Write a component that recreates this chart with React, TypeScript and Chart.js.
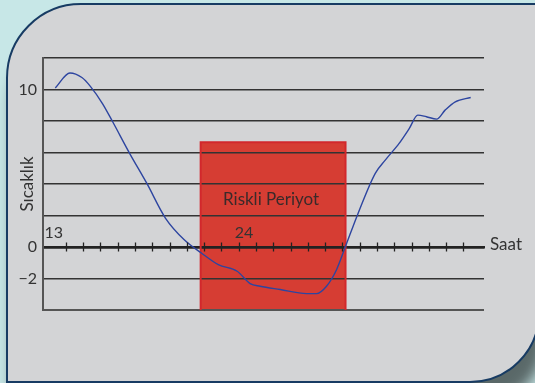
import React, { useEffect, useRef } from 'react';
import { Chart, registerables } from 'chart.js';

Chart.register(...registerables);

// Curve: hour of day (13 = 13:00, 24 = midnight, > 24 = next day) and temperature
const hours = [13.39, 14.24, 14.93, 15.42, 16.12, 16.71, 17.69, 18.68, 19.76, 20.85, 21.84, 22.82, 23.91, 24.66, 25.24, 26.4, 27.92, 28.5, 29.08, 29.66, 30.18, 30.91, 31.9, 32.49, 33.28, 33.87, 34.36, 34.86, 35.45, 35.94, 36.53, 37.42];
const temps = [10.1, 11.05, 10.76, 10.2, 9.11, 7.95, 5.95, 4.05, 1.84, 0.46, -0.38, -1.12, -1.54, -2.32, -2.49, -2.7, -2.96, -2.96, -2.49, -1.44, 0.04, 2.15, 4.68, 5.53, 6.58, 7.53, 8.37, 8.27, 8.12, 8.69, 9.22, 9.49];

// Risk period
const riskStart = 21.8;
const riskEnd = 30.18;
const riskTop = 6.65;
const riskLabel = 'Riskli Periyot';
const riskLabelY = 2.69;

// Axes
const xMin = 12.68;
const xMax = 38.19;
const tickHours = [14, 15, 16, 17, 18, 19, 20, 21, 22, 23, 24, 25, 26, 27, 28, 29, 30, 31, 32, 33, 34, 35, 36, 37];
const labeledHours = [13, 24];
const yMin = -4;
const yMax = 12;
const yStep = 2;
const yLabelValues = [10, 0, -2];
const xTitle = 'Saat';
const yTitle = 'Sıcaklık';

export default function App() {
  const ref = useRef<HTMLCanvasElement>(null);

  useEffect(() => {
    const canvas = ref.current!;
    const overlay = {
      id: 'overlay',
      afterDatasetsDraw(chart: any) {
        const { ctx, chartArea } = chart;
        const xs = chart.scales.x;
        const ys = chart.scales.y;
        const y0 = ys.getPixelForValue(0);
        ctx.save();
        ctx.strokeStyle = '#222';
        ctx.lineWidth = 1.3;
        tickHours.forEach((h) => {
          const px = Math.round(xs.getPixelForValue(h)) + 0.5;
          ctx.beginPath();
          ctx.moveTo(px, y0 - 4.5);
          ctx.lineTo(px, y0 + 4.5);
          ctx.stroke();
        });
        ctx.fillStyle = '#333';
        ctx.font = '17px Lato';
        ctx.textAlign = 'left';
        ctx.textBaseline = 'middle';
        ctx.fillText(xTitle, chartArea.right + 6, y0 - 2);
        ctx.fillStyle = '#3a2a2a';
        ctx.font = '17px Lato';
        ctx.textAlign = 'center';
        ctx.textBaseline = 'alphabetic';
        ctx.fillText(
          riskLabel,
          xs.getPixelForValue((riskStart + riskEnd) / 2) - 2,
          ys.getPixelForValue(riskLabelY)
        );
        ctx.restore();
      },
    };

    const chart = new Chart(canvas, {
      type: 'line',
      data: {
        datasets: [
          {
            data: hours.map((h, i) => ({ x: h, y: temps[i] })),
            borderColor: '#2d45a0',
            borderWidth: 1.4,
            pointRadius: 0,
            fill: false,
            cubicInterpolationMode: 'monotone',
          },
          {
            data: [
              { x: riskStart, y: yMin },
              { x: riskStart, y: riskTop },
              { x: riskEnd, y: riskTop },
              { x: riskEnd, y: yMin },
            ],
            borderColor: '#d2282c',
            borderWidth: 2,
            backgroundColor: '#d63d33',
            pointRadius: 0,
            fill: 'start',
            tension: 0,
          },
        ],
      },
      options: {
        animation: false,
        responsive: false,
        events: [],
        layout: { padding: { left: 0, top: 58, right: 51, bottom: 73 } },
        plugins: {
          legend: { display: false },
          tooltip: { enabled: false },
          filler: { drawTime: 'beforeDraw' },
        },
        scales: {
          x: {
            type: 'linear',
            min: xMin,
            max: xMax,
            position: { y: 0 },
            afterBuildTicks: (s: any) => {
              s.ticks = [13, ...tickHours].map((v) => ({ value: v }));
            },
            grid: { display: true, drawOnChartArea: false, drawTicks: false },
            border: { display: true, color: '#222', width: 2.5 },
            ticks: {
              autoSkip: false,
              maxRotation: 0,
              minRotation: 0,
              align: 'start',
              labelOffset: -4,
              padding: -24,
              font: { family: 'Lato', size: 16 },
              color: '#333',
              callback: (v: any) => (labeledHours.includes(v) ? String(v) : ''),
            },
          },
          y: {
            type: 'linear',
            min: yMin,
            max: yMax,
            afterFit: (s: any) => {
              s.width = 43;
            },
            ticks: {
              stepSize: yStep,
              padding: 6,
              font: { family: 'Lato', size: 16 },
              color: '#333',
              callback: (v: any) =>
                yLabelValues.includes(v) ? (v < 0 ? '\u2212' + -v : String(v)) : '',
            },
            grid: {
              drawTicks: false,
              color: (c: any) => (c.tick && c.tick.value === yMin ? '#555' : c.tick && c.tick.value === 0 ? '#222' : '#333'),
              lineWidth: (c: any) => (c.tick && c.tick.value === yMin ? 2 : c.tick && c.tick.value === 0 ? 2.5 : 1.6),
            },
            border: { display: true, color: '#555', width: 2 },
            title: {
              display: true,
              text: yTitle,
              font: { family: 'Lato', size: 17 },
              color: '#333',
              padding: { top: 17, bottom: 0 },
            },
          },
        },
      },
      plugins: [overlay],
    } as any);
    return () => chart.destroy();
  }, []);

  return (
    <div
      style={{
        position: 'fixed',
        left: 0,
        top: 0,
        width: 535,
        height: 383,
        overflow: 'hidden',
        background: '#c7e7e7',
      }}
    >
      <div
        style={{
          position: 'absolute',
          left: 6,
          top: 3,
          width: 534,
          height: 380,
          boxSizing: 'border-box',
          border: '2.5px solid #173b63',
          borderRadius: '75px 0 70px 0',
          background: '#d3d4d6',
          boxShadow: '6px 24px 14px rgba(0,0,0,0.55)',
        }}
      />
      <canvas
        ref={ref}
        width={535}
        height={383}
        style={{ position: 'absolute', left: 0, top: 0, width: 535, height: 383 }}
      />
    </div>
  );
}
